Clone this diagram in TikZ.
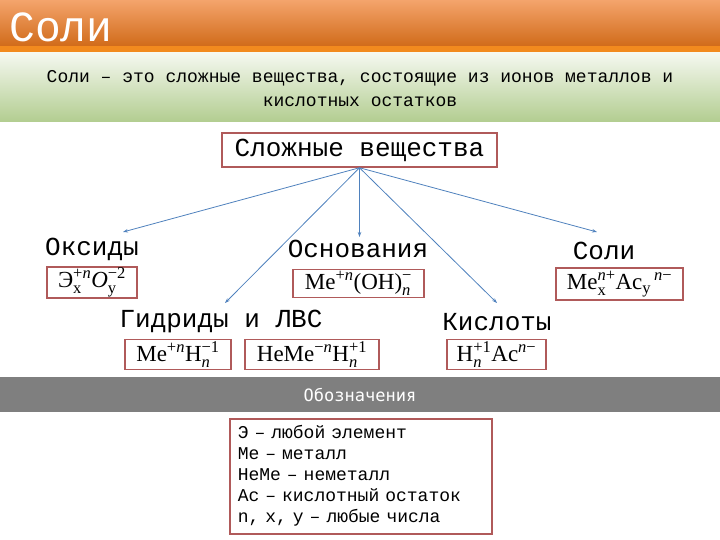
\documentclass[tikz,border=0pt]{standalone}
\usepackage{amsmath}
\usepackage{fontspec}
\setmainfont{Liberation Serif}
\setmonofont{Liberation Mono}
\newfontfamily\dvmono{DejaVu Sans Mono}
\usetikzlibrary{arrows.meta}
\definecolor{boxred}{HTML}{B05A5A}
\definecolor{arr}{HTML}{4F81BD}
\definecolor{bandgrey}{HTML}{7F7F7F}
\definecolor{orTop}{HTML}{F4A46C}
\definecolor{orMid}{HTML}{E07A2C}
\definecolor{orBot}{HTML}{D06A18}
\definecolor{orLine}{HTML}{F28A1E}
\definecolor{grTop}{HTML}{F5F8F0}
\definecolor{grBot}{HTML}{B2CD90}
\DeclareMathSizes{23}{23}{16.5}{13}
\newcommand\tx[1]{\text{#1}}
\newcommand\nvar{\textit{n}}
\begin{document}
\begin{tikzpicture}[x=1pt,y=-1pt,
  redbox/.style={draw=boxred, line width=1.5pt, fill=white, inner sep=0pt},
  lbl/.style={font=\ttfamily\fontsize{26}{30}\selectfont, inner sep=0pt},
  fml/.style={redbox, font=\fontsize{23}{27}\selectfont},
  conn/.style={draw=arr, line width=0.8pt, -{Stealth[length=5pt,width=3.5pt]}}]
\useasboundingbox (0,0) rectangle (720,540);
% title bar
\shade[top color=orTop, middle color=orMid, bottom color=orBot] (0,0) rectangle (720,47);
\fill[orLine] (0,46) rectangle (720,52);
\node[anchor=west, text=white, font=\ttfamily\fontsize{43}{48}\selectfont, inner sep=0pt] (title) at (9,27) {Соли};
% green band
\shade[top color=grTop, bottom color=grBot] (0,53) rectangle (720,122);
\node[align=center, font=\ttfamily\fontsize{18}{24}\selectfont, inner sep=0pt] (def) at (360,89)
  {Соли – это сложные вещества, состоящие из ионов металлов и\\кислотных остатков};
% top node
\node[redbox, lbl, minimum width=275pt, minimum height=34pt] (top) at (359.5,150) {Сложные вещества};
% labels
\node[lbl] (ox) at (92,249) {Оксиды};
\node[lbl] (osn) at (358,249) {Основания};
\node[lbl] (sol) at (604,251) {Соли};
\node[lbl] (gid) at (221,322) {Гидриды и ЛВС};
\node[lbl] (kis) at (497,322) {Кислоты};
% formula boxes
\node[fml, minimum width=90pt, minimum height=31pt] (fox) at (92,282.5)
  {$\tx{Э}_{\tx{x}}^{\tx{+}\nvar}\tx{\textit{O}}_{\tx{y}}^{\tx{−2}}$};
\node[fml, minimum width=131pt, minimum height=28pt] (fosn) at (358.5,283.5)
  {$\tx{Me}^{\tx{+}\nvar}\tx{(OH)}_{\nvar}^{\tx{−}}$};
\node[fml, minimum width=127pt, minimum height=32pt] (fsol) at (619.5,284)
  {$\tx{Me}_{\tx{x}}^{\nvar\tx{+}}\tx{Ac}_{\tx{y}}{}^{\,\nvar\tx{−}}$};
\node[fml, minimum width=106pt, minimum height=30pt] (fg1) at (178,354.5)
  {$\tx{Me}^{\tx{+}\nvar}\tx{H}_{\nvar}^{\tx{−1}}$};
\node[fml, minimum width=134pt, minimum height=30pt] (fg2) at (312,354.5)
  {$\tx{HeMe}^{\tx{−}\nvar}\tx{H}_{\nvar}^{\tx{+1}}$};
\node[fml, minimum width=99pt, minimum height=30pt] (fkis) at (496.5,354.5)
  {$\tx{H}_{\nvar}^{\tx{+1}}\tx{Ac}^{\nvar\tx{−}}$};
% arrows
\coordinate (aox) at (123,232);
\coordinate (aosn) at (359.5,237);
\coordinate (asol) at (597,232);
\coordinate (agid) at (225,303);
\coordinate (akis) at (497,303);
\draw[conn] (top.south) -- (aox);
\draw[conn] (top.south) -- (aosn);
\draw[conn] (top.south) -- (asol);
\draw[conn] (top.south) -- (agid);
\draw[conn] (top.south) -- (akis);
% grey band
\fill[bandgrey] (0,377) rectangle (720,412);
\node[text=white, font=\dvmono\fontsize{17}{20}\selectfont, inner sep=0pt] (obz) at (360,395) {Обозначения};
% legend
\node[redbox, anchor=north west, minimum width=262pt, minimum height=115pt,
  text width=246pt, inner xsep=8pt, align=left,
  font=\ttfamily\fontsize{18}{21}\selectfont] (leg) at (229,418)
  {Э – любой элемент\\Me – металл\\HeMe – неметалл\\Ac – кислотный остаток\\n, x, y – любые числа};
\end{tikzpicture}
\end{document}
